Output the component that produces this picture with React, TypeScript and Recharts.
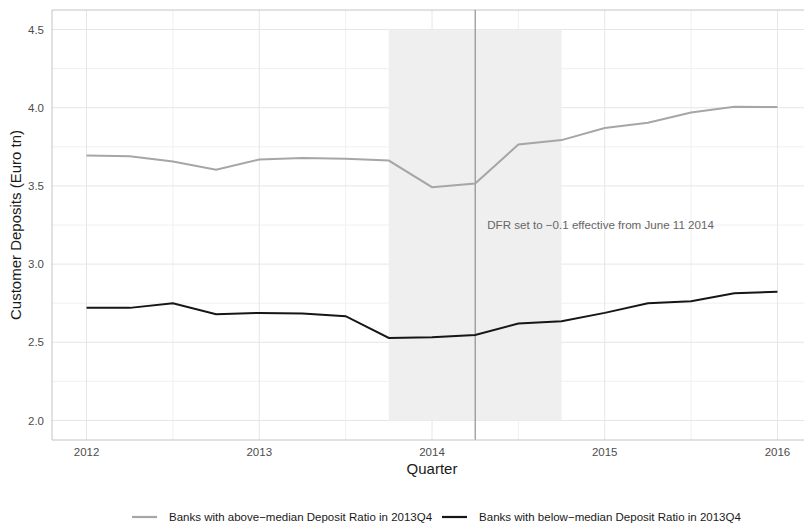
import {
  LineChart,
  Line,
  XAxis,
  YAxis,
  CartesianGrid,
  ReferenceArea,
  ReferenceLine,
} from "recharts";

// quarters as decimal years
const quarters = [
  2012, 2012.25, 2012.5, 2012.75, 2013, 2013.25, 2013.5, 2013.75, 2014,
  2014.25, 2014.5, 2014.75, 2015, 2015.25, 2015.5, 2015.75, 2016,
];
const aboveMedian = [
  3.694, 3.69, 3.656, 3.603, 3.669, 3.679, 3.673, 3.662, 3.492, 3.515, 3.765,
  3.793, 3.87, 3.904, 3.97, 4.006, 4.004,
];
const belowMedian = [
  2.72, 2.72, 2.75, 2.679, 2.688, 2.684, 2.667, 2.528, 2.532, 2.547, 2.62,
  2.635, 2.688, 2.75, 2.763, 2.814, 2.823,
];
const xTicks = [2012, 2013, 2014, 2015, 2016];
const xMinor = [2012.5, 2013.5, 2014.5, 2015.5];
const yTicks = [2.0, 2.5, 3.0, 3.5, 4.0, 4.5];
const yMinor = [2.25, 2.75, 3.25, 3.75, 4.25];

const seriesNames = [
  "Banks with above\u2212median Deposit Ratio in 2013Q4",
  "Banks with below\u2212median Deposit Ratio in 2013Q4",
];
const annotation = "DFR set to \u22120.1 effective from June 11  2014";

const GREY = "#a6a6a6";
const BLACK = "#161616";
const FONT = "'Liberation Sans', Arial, sans-serif";

const data = quarters.map((q, i) => ({
  q,
  above: aboveMedian[i],
  below: belowMedian[i],
}));

export default function App() {
  return (
    <div
      style={{
        position: "absolute",
        left: 0,
        top: 0,
        width: 804,
        height: 523,
        overflow: "hidden",
        background: "#fff",
        fontFamily: FONT,
      }}
    >
      <LineChart
        width={830}
        height={523}
        data={data}
        margin={{ top: 10, right: 18, left: 0, bottom: 47 }}
      >
        <CartesianGrid
          stroke="#f0f0f0"
          horizontalValues={yMinor}
          verticalValues={xMinor}
        />
        <CartesianGrid
          stroke="#e6e6e6"
          horizontalValues={yTicks}
          verticalValues={xTicks}
        />
        <XAxis
          dataKey="q"
          type="number"
          domain={[2011.8, 2016.2]}
          ticks={xTicks}
          height={36}
          tickLine={false}
          axisLine={{ stroke: "#c4c4c4" }}
          tick={{ fill: "#4d4d4d", fontSize: 11.5, fontFamily: FONT }}
          label={{
            value: "Quarter",
            position: "insideBottom",
            offset: 2,
            style: { fill: "#1a1a1a", fontSize: 15, fontFamily: FONT },
          }}
        />
        <YAxis
          type="number"
          domain={[1.875, 4.625]}
          ticks={yTicks}
          width={52}
          tickLine={false}
          axisLine={{ stroke: "#c4c4c4" }}
          tickFormatter={(v: number) => v.toFixed(1)}
          tick={{ fill: "#4d4d4d", fontSize: 11.5, fontFamily: FONT }}
          label={{
            value: "Customer Deposits (Euro tn)",
            angle: -90,
            position: "insideLeft",
            offset: 16,
            style: {
              textAnchor: "middle",
              fill: "#1a1a1a",
              fontSize: 15,
              fontFamily: FONT,
            },
          }}
        />
        <ReferenceLine y={4.625} stroke="#c4c4c4" />
        <ReferenceArea
          x1={2013.75}
          x2={2014.75}
          y1={2.0}
          y2={4.5}
          fill="#efefef"
          fillOpacity={1}
          stroke="none"
        />
        <ReferenceLine
          x={2014.25}
          stroke="#7c7c7c"
          strokeWidth={1}
          label={{
            value: annotation,
            position: "right",
            offset: 12,
            style: { fill: "#666", fontSize: 11.6, fontFamily: FONT },
          }}
        />
        <Line
          dataKey="above"
          stroke={GREY}
          strokeWidth={2}
          dot={false}
          isAnimationActive={false}
        />
        <Line
          dataKey="below"
          stroke={BLACK}
          strokeWidth={2}
          dot={false}
          isAnimationActive={false}
        />
      </LineChart>
      <div
        style={{
          position: "absolute",
          left: 132,
          top: 509,
          display: "flex",
          alignItems: "center",
          fontSize: 11.5,
          color: "#1a1a1a",
          whiteSpace: "nowrap",
        }}
      >
        {seriesNames.map((name, i) => (
          <div
            key={name}
            style={{ display: "flex", alignItems: "center", marginRight: 10 }}
          >
            <svg width={25} height={16} style={{ marginRight: 12 }}>
              <line
                x1={0}
                x2={25}
                y1={8}
                y2={8}
                stroke={i === 0 ? GREY : BLACK}
                strokeWidth={2.2}
              />
            </svg>
            <span>{name}</span>
          </div>
        ))}
      </div>
    </div>
  );
}
